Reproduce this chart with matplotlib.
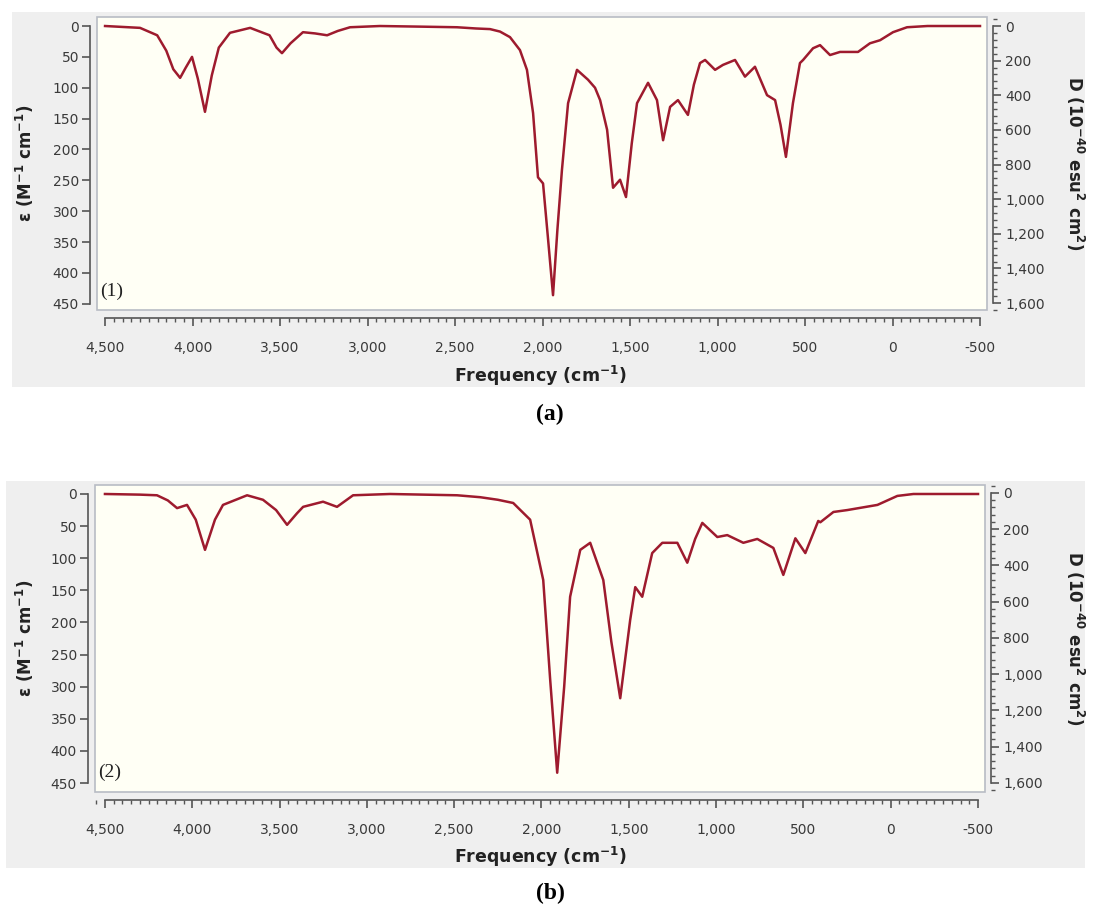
import matplotlib
matplotlib.use("Agg")
import matplotlib.pyplot as plt
import numpy as np
from matplotlib.patches import Rectangle
from matplotlib.ticker import MultipleLocator, FuncFormatter

# ---------------- data ----------------
freq_a = [4500, 4300, 4202, 4150, 4110, 4071, 4040, 4003, 3970, 3929, 3890, 3850, 3786,
          3671, 3560, 3520, 3489, 3440, 3369, 3300, 3231, 3170, 3100, 2929, 2700, 2489,
          2380, 2300, 2243, 2186, 2129, 2089, 2054, 2026, 1997, 1970, 1940, 1915, 1889,
          1854, 1803, 1740, 1700, 1671, 1631, 1597, 1557, 1523, 1490, 1460, 1397, 1346,
          1311, 1271, 1226, 1169, 1135, 1100, 1071, 1014, 969, 900, 843, 786, 717, 671,
          640, 609, 569, 529, 511, 454, 414, 357, 300, 197, 129, 71, -3, -83, -200, -500]
eps_a = [0, 3, 15, 40, 70, 84, 68, 50, 85, 139, 80, 35, 11,
         3, 15, 35, 44, 28, 10, 12, 15, 8, 2, 0, 1, 2,
         4, 5, 9, 18, 39, 71, 141, 245, 255, 340, 436, 330, 233,
         125, 71, 87, 100, 120, 168, 262, 249, 277, 190, 125, 92, 120,
         185, 131, 120, 144, 95, 60, 55, 71, 63, 55, 82, 66, 112, 120,
         160, 212, 125, 60, 55, 36, 31, 47, 42, 42, 28, 23, 10, 2, 0, 0]

freq_b = [4500, 4300, 4202, 4140, 4087, 4030, 3980, 3927, 3870, 3824, 3686, 3595, 3520,
          3457, 3400, 3365, 3251, 3171, 3079, 2867, 2483, 2351, 2250, 2162, 2065, 1990,
          1950, 1910, 1870, 1836, 1778, 1721, 1646, 1600, 1549, 1492, 1463, 1423, 1366,
          1308, 1222, 1165, 1120, 1079, 993, 936, 844, 764, 672, 615, 546, 489, 415,
          403, 328, 248, 76, -38, -130, -500]
eps_b = [0, 1, 2, 10, 22, 17, 40, 87, 40, 17, 2, 9, 25,
         48, 30, 20, 12, 20, 2, 0, 2, 5, 9, 14, 40, 134,
         290, 434, 300, 160, 87, 76, 134, 230, 318, 196, 145, 160, 92,
         76, 76, 107, 70, 45, 67, 64, 76, 70, 84, 126, 69, 92, 42,
         44, 28, 25, 17, 3, 0, 0]

x_ticks = [4500, 4000, 3500, 3000, 2500, 2000, 1500, 1000, 500, 0, -500]
eps_ticks = [0, 50, 100, 150, 200, 250, 300, 350, 400, 450]
d_ticks = [0, 200, 400, 600, 800, 1000, 1200, 1400, 1600]

# ---------------- style ----------------
W, H = 1096, 914
LINE = "#9e1b2e"
TXT = "#3a3a3a"
GRAYBG = "#efefef"
PLOTBG = "#fffff5"
SPINE = "#555555"

fig = plt.figure(figsize=(W / 100, H / 100), dpi=100)
fig.patch.set_facecolor("white")

# background layer for the grey frames
bg = fig.add_axes([0, 0, 1, 1], zorder=-5)
bg.set_xlim(0, W)
bg.set_ylim(H, 0)
bg.axis("off")


def fx(px):
    return px / W


def fy(py):
    return 1 - py / H


def comma(v, pos=None):
    return f"{int(v):,}"


axes_list = []


def panel(freq, eps, box, plot, xlim, ylim, dlim, tag, xlab_y, ticklab_pad, letter, letter_y):
    gx0, gy0, gx1, gy1 = box
    bg.add_patch(Rectangle((gx0, gy0), gx1 - gx0, gy1 - gy0, facecolor=GRAYBG,
                           edgecolor="none"))
    l, t, r, b = plot
    ax = fig.add_axes([fx(l), fy(b), fx(r - l), (b - t) / H])
    ax.set_facecolor(PLOTBG)
    ax.plot(freq, eps, color=LINE, lw=1.8, solid_joinstyle="round", zorder=3)
    ax.set_xlim(*xlim)
    ax.set_ylim(*ylim)

    for s in ["top", "right"]:
        ax.spines[s].set_visible(False)
    ax.spines["left"].set_position(("outward", 5))
    ax.spines["bottom"].set_position(("outward", 6))
    ax.spines["left"].set_bounds(0, 450)
    ax.spines["bottom"].set_bounds(4500, -500)
    for s in ["left", "bottom"]:
        ax.spines[s].set_color(SPINE)
        ax.spines[s].set_linewidth(1.2)
    ax.add_patch(Rectangle((0, 0), 1, 1, transform=ax.transAxes, fill=False,
                           edgecolor="#b8bcc4", lw=1.2, zorder=5, clip_on=False))

    ax.set_xticks(x_ticks)
    ax.xaxis.set_major_formatter(FuncFormatter(comma))
    ax.xaxis.set_minor_locator(MultipleLocator(50))
    ax.set_yticks(eps_ticks)
    ax.tick_params(axis="x", which="major", length=6, width=1.2, color=SPINE,
                   labelcolor=TXT, labelsize=10, pad=ticklab_pad)
    ax.tick_params(axis="x", which="minor", length=3, width=1.0, color=SPINE)
    ax.tick_params(axis="y", which="major", length=6, width=1.2, color=SPINE,
                   labelcolor=TXT, labelsize=10, pad=2)

    ax2 = ax.twinx()
    ax2.set_ylim(*dlim)
    for s in ["top", "left", "bottom"]:
        ax2.spines[s].set_visible(False)
    ax2.spines["right"].set_position(("outward", 4))
    ax2.spines["right"].set_bounds(0, 1600)
    ax2.spines["right"].set_color(SPINE)
    ax2.spines["right"].set_linewidth(1.2)
    ax2.set_yticks(d_ticks)
    ax2.yaxis.set_major_formatter(FuncFormatter(comma))
    ax2.yaxis.set_minor_locator(MultipleLocator(40))
    ax2.tick_params(axis="y", which="major", length=6, width=1.2, color=SPINE,
                    labelcolor=TXT, labelsize=10, pad=3)
    ax2.tick_params(axis="y", which="minor", length=3, width=1.0, color=SPINE)

    cy = (t + b) / 2
    fig.text(fx(25), fy(cy), r"ε (M$^{\mathbf{-1}}$ cm$^{\mathbf{-1}}$)", rotation=90,
             ha="center", va="center", fontsize=12, fontweight="bold", color="#222222")
    fig.text(fx(1075), fy(cy), r"D (10$^{\mathbf{-40}}$ esu$^{\mathbf{2}}$ cm$^{\mathbf{2}}$)",
             rotation=-90, ha="center", va="center", fontsize=12, fontweight="bold",
             color="#222222")
    fig.text(fx(540), fy(xlab_y), r"Frequency (cm$^{\mathbf{-1}}$)", ha="center",
             va="center", fontsize=12.5, fontweight="bold", color="#222222")
    ax.text(0.003, 0.035, tag, transform=ax.transAxes, ha="left", va="bottom",
            fontsize=14, family="Liberation Serif", color="#222222", zorder=6)
    fig.text(fx(550), fy(letter_y), letter, ha="center", va="center", fontsize=17,
             fontweight="bold", family="Liberation Serif", color="black")
    axes_list.append(ax)
    return ax


panel(freq_a, eps_a, box=(12, 12, 1085, 387), plot=(97, 17, 987, 310),
      xlim=(4546, -540), ylim=(460, -14.6), dlim=(1640, -52), tag="(1)",
      xlab_y=376, ticklab_pad=10, letter="(a)", letter_y=414)

panel(freq_b, eps_b, box=(6, 481, 1085, 868), plot=(95, 485, 985, 792),
      xlim=(4557, -540), ylim=(464, -14), dlim=(1650, -44), tag="(2)",
      xlab_y=857, ticklab_pad=10, letter="(b)", letter_y=893)

fig.savefig("out.png", dpi=100, facecolor="white")
